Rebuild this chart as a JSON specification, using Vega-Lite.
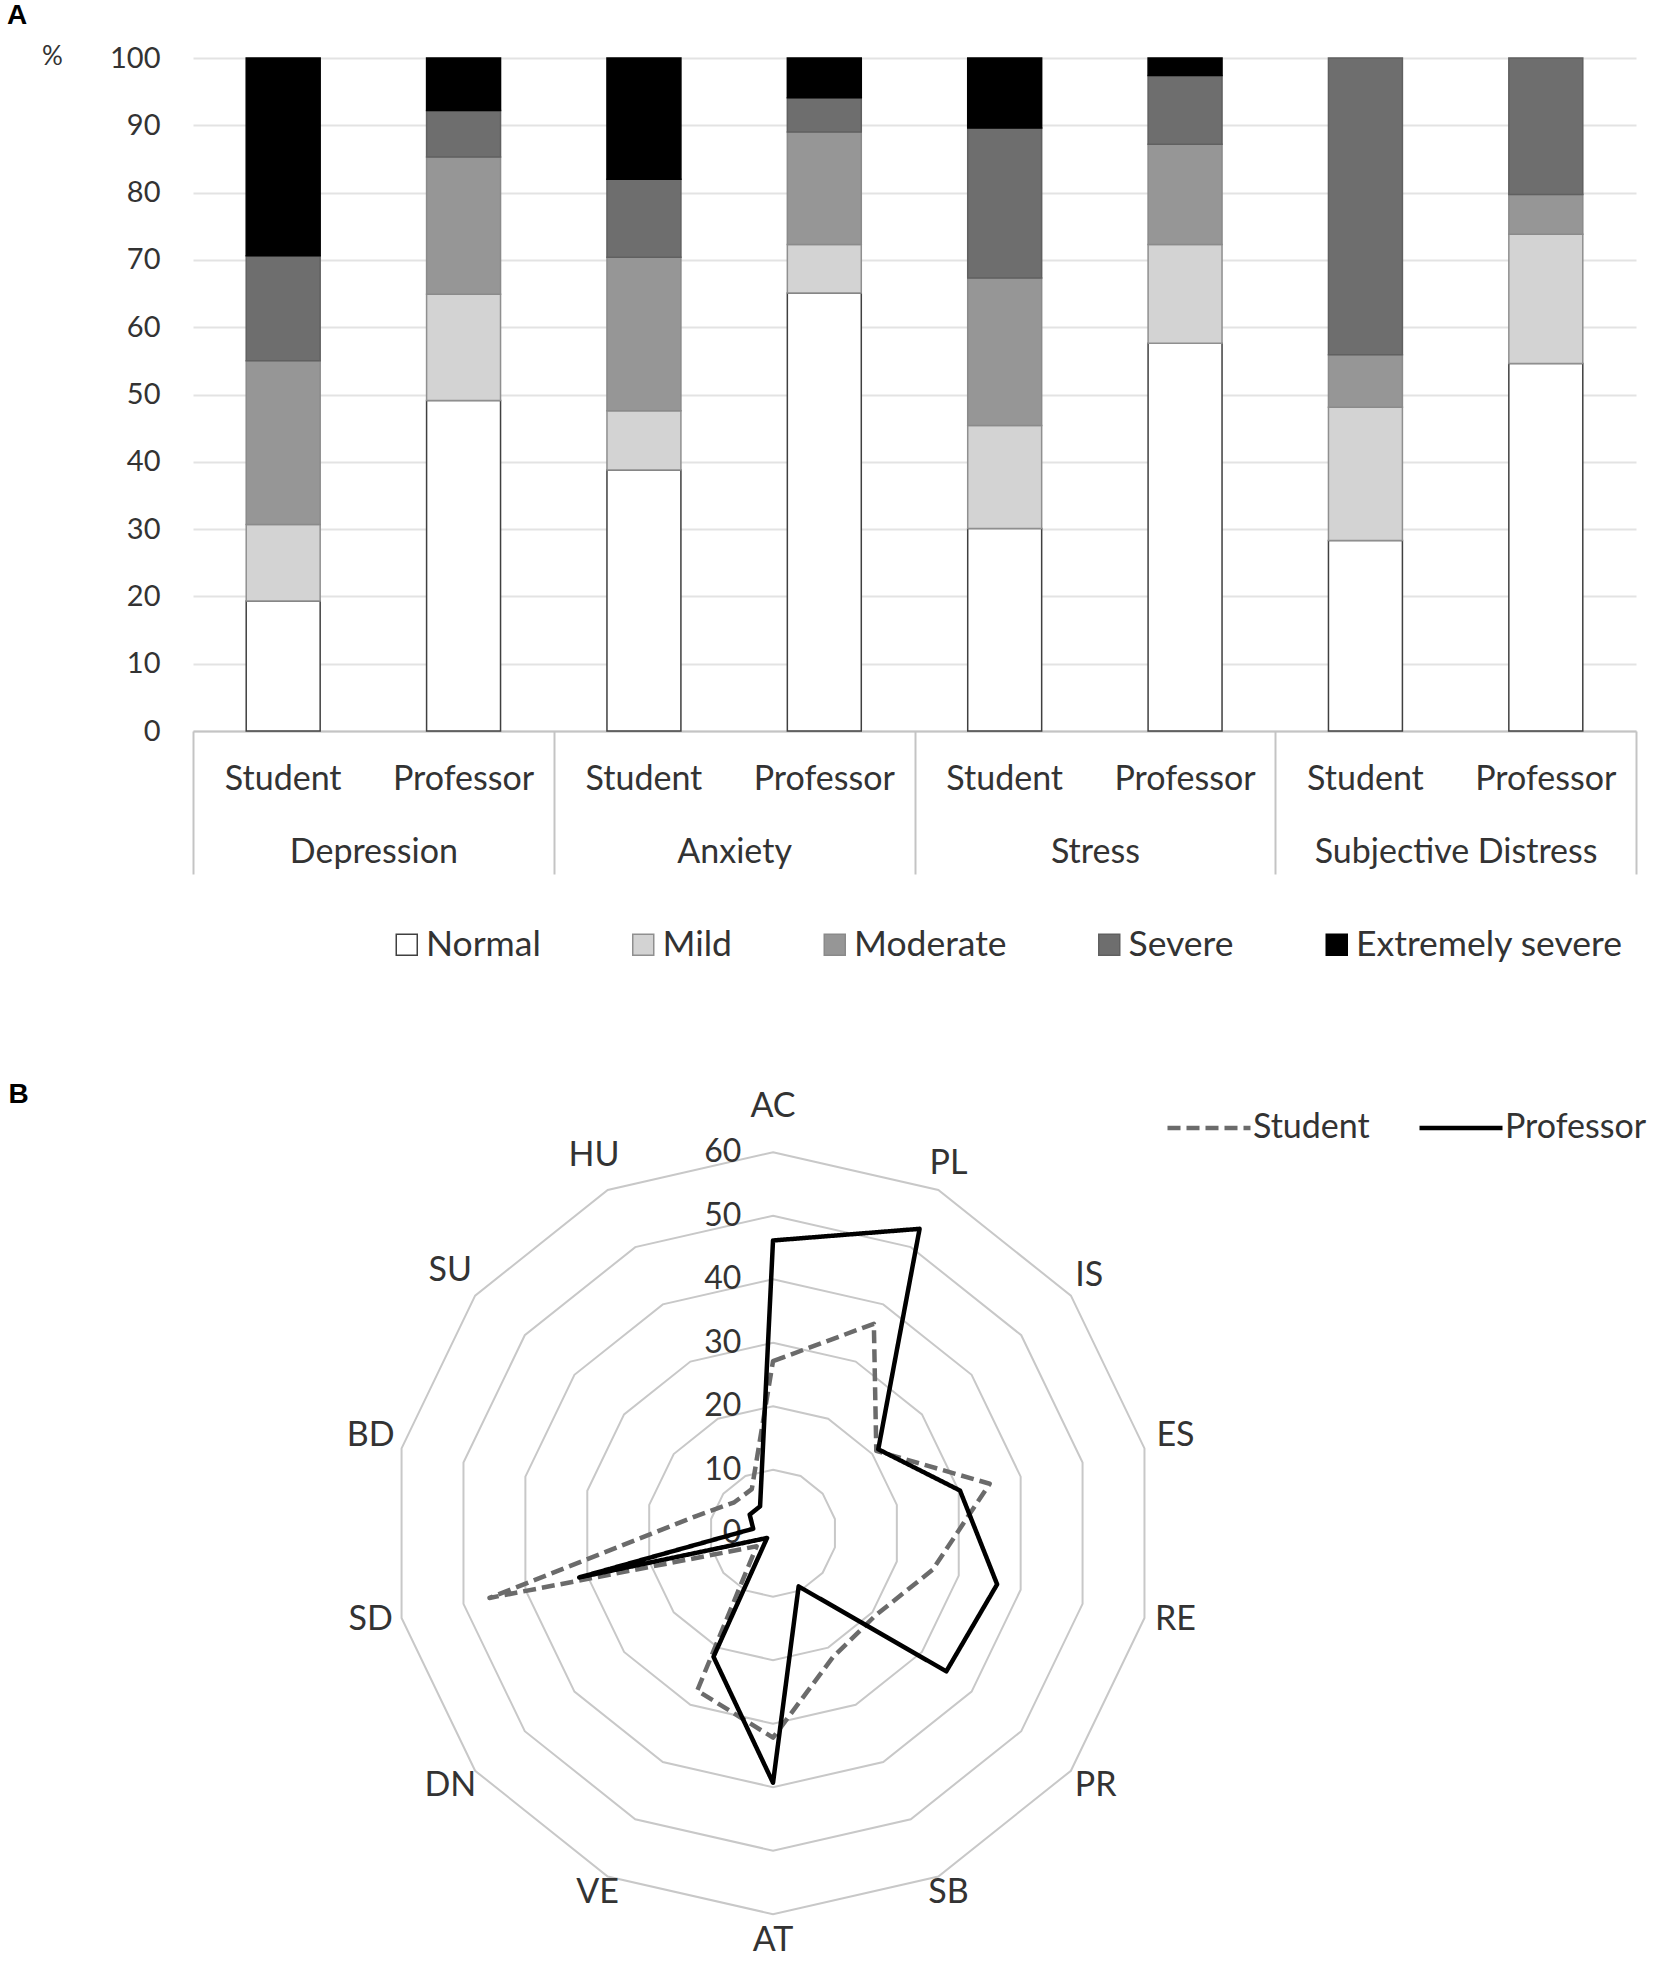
{
  "$schema": "https://vega.github.io/schema/vega-lite/v6.json",
  "background": "white",
  "padding": {"left": 7, "top": 2, "right": 0, "bottom": 0},
  "config": {"view": {"stroke": null}, "font": "Lato"},
  "spacing": 201,
  "vconcat": [
    {
      "title": {"text": "A", "anchor": "start", "frame": "group", "dx": -186, "font": "Liberation Sans", "fontSize": 28, "fontWeight": "bold", "color": "#000000", "offset": 13.5},
      "width": 1443,
      "height": 673,
      "data": {"values": [
        {"group": "Depression", "role": "Student", "level": "Normal", "value": 19.3},
        {"group": "Depression", "role": "Student", "level": "Mild", "value": 11.4},
        {"group": "Depression", "role": "Student", "level": "Moderate", "value": 24.3},
        {"group": "Depression", "role": "Student", "level": "Severe", "value": 15.6},
        {"group": "Depression", "role": "Student", "level": "Extremely severe", "value": 29.4},
        {"group": "Depression", "role": "Professor", "level": "Normal", "value": 49.1},
        {"group": "Depression", "role": "Professor", "level": "Mild", "value": 15.8},
        {"group": "Depression", "role": "Professor", "level": "Moderate", "value": 20.4},
        {"group": "Depression", "role": "Professor", "level": "Severe", "value": 6.9},
        {"group": "Depression", "role": "Professor", "level": "Extremely severe", "value": 7.8},
        {"group": "Anxiety", "role": "Student", "level": "Normal", "value": 38.8},
        {"group": "Anxiety", "role": "Student", "level": "Mild", "value": 8.8},
        {"group": "Anxiety", "role": "Student", "level": "Moderate", "value": 22.8},
        {"group": "Anxiety", "role": "Student", "level": "Severe", "value": 11.6},
        {"group": "Anxiety", "role": "Student", "level": "Extremely severe", "value": 18.0},
        {"group": "Anxiety", "role": "Professor", "level": "Normal", "value": 65.1},
        {"group": "Anxiety", "role": "Professor", "level": "Mild", "value": 7.2},
        {"group": "Anxiety", "role": "Professor", "level": "Moderate", "value": 16.7},
        {"group": "Anxiety", "role": "Professor", "level": "Severe", "value": 5.1},
        {"group": "Anxiety", "role": "Professor", "level": "Extremely severe", "value": 5.9},
        {"group": "Stress", "role": "Student", "level": "Normal", "value": 30.1},
        {"group": "Stress", "role": "Student", "level": "Mild", "value": 15.3},
        {"group": "Stress", "role": "Student", "level": "Moderate", "value": 21.9},
        {"group": "Stress", "role": "Student", "level": "Severe", "value": 22.3},
        {"group": "Stress", "role": "Student", "level": "Extremely severe", "value": 10.4},
        {"group": "Stress", "role": "Professor", "level": "Normal", "value": 57.6},
        {"group": "Stress", "role": "Professor", "level": "Mild", "value": 14.7},
        {"group": "Stress", "role": "Professor", "level": "Moderate", "value": 14.9},
        {"group": "Stress", "role": "Professor", "level": "Severe", "value": 10.2},
        {"group": "Stress", "role": "Professor", "level": "Extremely severe", "value": 2.6},
        {"group": "Subjective Distress", "role": "Student", "level": "Normal", "value": 28.3},
        {"group": "Subjective Distress", "role": "Student", "level": "Mild", "value": 19.8},
        {"group": "Subjective Distress", "role": "Student", "level": "Moderate", "value": 7.8},
        {"group": "Subjective Distress", "role": "Student", "level": "Severe", "value": 44.1},
        {"group": "Subjective Distress", "role": "Professor", "level": "Normal", "value": 54.6},
        {"group": "Subjective Distress", "role": "Professor", "level": "Mild", "value": 19.2},
        {"group": "Subjective Distress", "role": "Professor", "level": "Moderate", "value": 5.9},
        {"group": "Subjective Distress", "role": "Professor", "level": "Severe", "value": 20.3}
      ]},
      "transform": [
        {"calculate": "datum.group + '|' + datum.role", "as": "key"},
        {"calculate": "indexof(['Normal','Mild','Moderate','Severe','Extremely severe'], datum.level)", "as": "lvl"}
      ],
      "layer": [
        {
          "mark": {"type": "bar", "strokeWidth": 1.5},
          "encoding": {
            "x": {
              "field": "key", "type": "nominal",
              "sort": ["Depression|Student", "Depression|Professor", "Anxiety|Student", "Anxiety|Professor", "Stress|Student", "Stress|Professor", "Subjective Distress|Student", "Subjective Distress|Professor"],
              "scale": {"paddingInner": 0.59, "paddingOuter": 0.295},
              "axis": {"orient": "bottom", "title": null, "labelExpr": "split(datum.label, '|')[1]", "labelAngle": 0, "labelFont": "Lato", "labelFontSize": 34, "labelColor": "#333333", "labelPadding": 31, "labelLimit": 0, "ticks": false, "domain": true, "domainColor": "#c4c4c4", "domainWidth": 2, "grid": false}
            },
            "y": {
              "field": "value", "type": "quantitative", "stack": "zero",
              "scale": {"domain": [0, 100], "nice": false},
              "axis": {"title": "%", "titleAngle": 0, "titleX": -141, "titleY": -1.5, "titleAlign": "center", "titleBaseline": "middle", "titleFont": "Lato", "titleFontSize": 26, "titleFontWeight": "normal", "titleColor": "#333333", "values": [0, 10, 20, 30, 40, 50, 60, 70, 80, 90, 100], "labelFont": "Lato", "labelFontSize": 29, "labelColor": "#333333", "labelPadding": 33, "ticks": false, "domain": false, "grid": true, "gridColor": "#e3e3e3", "gridWidth": 2}
            },
            "fill": {
              "field": "level", "type": "nominal",
              "scale": {"domain": ["Normal", "Mild", "Moderate", "Severe", "Extremely severe"], "range": ["#ffffff", "#d3d3d3", "#969696", "#6e6e6e", "#000000"]},
              "legend": {"orient": "none", "legendX": 196, "legendY": 868.5, "direction": "horizontal", "title": null, "symbolType": "square", "symbolSize": 441, "symbolStrokeWidth": 1.5, "symbolOpacity": 1, "labelFont": "Lato", "labelFontSize": 35.5, "labelColor": "#333333", "labelOffset": 1.5, "columnPadding": 84.5, "labelLimit": 0, "padding": 0}
            },
            "stroke": {
              "field": "level", "type": "nominal",
              "scale": {"domain": ["Normal", "Mild", "Moderate", "Severe", "Extremely severe"], "range": ["#404040", "#8f8f8f", "#8a8a8a", "#606060", "#000000"]},
              "legend": {"orient": "none", "legendX": 196, "legendY": 868.5, "direction": "horizontal", "title": null, "symbolType": "square", "symbolSize": 441, "symbolStrokeWidth": 1.5, "symbolOpacity": 1, "labelFont": "Lato", "labelFontSize": 35.5, "labelColor": "#333333", "labelOffset": 1.5, "columnPadding": 84.5, "labelLimit": 0, "padding": 0}
            },
            "order": {"field": "lvl", "type": "quantitative"}
          }
        },
        {
          "mark": {"type": "rule", "opacity": 0},
          "encoding": {
            "x": {
              "field": "group", "type": "nominal",
              "sort": ["Depression", "Anxiety", "Stress", "Subjective Distress"],
              "scale": {"type": "band", "paddingInner": 0, "paddingOuter": 0},
              "axis": {"orient": "bottom", "title": null, "labelAngle": 0, "tickBand": "extent", "ticks": true, "tickSize": 143, "tickColor": "#c4c4c4", "tickWidth": 2, "domain": false, "labelFont": "Lato", "labelFontSize": 34, "labelColor": "#333333", "labelPadding": -38.5, "labelLimit": 0, "grid": false}
            }
          }
        }
      ],
      "resolve": {"scale": {"x": "independent"}, "axis": {"x": "independent"}}
    },
    {
      "width": 1443,
      "height": 889,
      "layer": [
        {
          "data": {"values": [
            {"level": 10, "k": [0, 1, 2, 3, 4, 5, 6, 7, 8, 9, 10, 11, 12, 13]},
            {"level": 20, "k": [0, 1, 2, 3, 4, 5, 6, 7, 8, 9, 10, 11, 12, 13]},
            {"level": 30, "k": [0, 1, 2, 3, 4, 5, 6, 7, 8, 9, 10, 11, 12, 13]},
            {"level": 40, "k": [0, 1, 2, 3, 4, 5, 6, 7, 8, 9, 10, 11, 12, 13]},
            {"level": 50, "k": [0, 1, 2, 3, 4, 5, 6, 7, 8, 9, 10, 11, 12, 13]},
            {"level": 60, "k": [0, 1, 2, 3, 4, 5, 6, 7, 8, 9, 10, 11, 12, 13]}
          ]},
          "transform": [
            {"flatten": ["k"]},
            {"calculate": "datum.level * sin(datum.k * 2 * PI / 14)", "as": "px"},
            {"calculate": "datum.level * cos(datum.k * 2 * PI / 14)", "as": "py"}
          ],
          "mark": {"type": "line", "interpolate": "linear-closed", "color": "#c8c8c8", "strokeWidth": 2},
          "encoding": {
            "x": {"field": "px", "type": "quantitative", "scale": {"domain": [-91.34, 135.9], "nice": false, "zero": false}, "axis": null},
            "y": {"field": "py", "type": "quantitative", "scale": {"domain": [-68, 72], "nice": false, "zero": false}, "axis": null},
            "detail": {"field": "level", "type": "nominal"},
            "order": {"field": "k", "type": "quantitative"}
          }
        },
        {
          "data": {"values": [
            {"level": 0}, {"level": 10}, {"level": 20}, {"level": 30}, {"level": 40}, {"level": 50}, {"level": 60}
          ]},
          "mark": {"type": "text", "align": "right", "baseline": "middle", "font": "Lato", "fontSize": 32, "color": "#333333"},
          "encoding": {
            "x": {"datum": -5, "type": "quantitative"},
            "y": {"field": "level", "type": "quantitative"},
            "text": {"field": "level", "type": "nominal"}
          }
        },
        {
          "data": {"values": [
            {"k": 0, "label": "AC"}, {"k": 1, "label": "PL"}, {"k": 2, "label": "IS"}, {"k": 3, "label": "ES"},
            {"k": 4, "label": "RE"}, {"k": 5, "label": "PR"}, {"k": 6, "label": "SB"}, {"k": 7, "label": "AT"},
            {"k": 8, "label": "VE"}, {"k": 9, "label": "DN"}, {"k": 10, "label": "SD"}, {"k": 11, "label": "BD"},
            {"k": 12, "label": "SU"}, {"k": 13, "label": "HU"}
          ]},
          "transform": [
            {"calculate": "datum.k == 0 ? 66.3 : (datum.k == 1 || datum.k == 2 || datum.k == 6 || datum.k == 8 ? 63.7 : 65)", "as": "lr"},
            {"calculate": "datum.lr * sin(datum.k * 2 * PI / 14)", "as": "px"},
            {"calculate": "datum.lr * cos(datum.k * 2 * PI / 14)", "as": "py"}
          ],
          "mark": {"type": "text", "align": "center", "baseline": "middle", "dy": -5, "font": "Lato", "fontSize": 34, "color": "#333333"},
          "encoding": {
            "x": {"field": "px", "type": "quantitative"},
            "y": {"field": "py", "type": "quantitative"},
            "text": {"field": "label", "type": "nominal"}
          }
        },
        {
          "data": {"values": [
            {"series": "Student", "k": 0, "axis": "AC", "value": 27.1},
            {"series": "Student", "k": 1, "axis": "PL", "value": 36.6},
            {"series": "Student", "k": 2, "axis": "IS", "value": 20.8},
            {"series": "Student", "k": 3, "axis": "ES", "value": 35.0},
            {"series": "Student", "k": 4, "axis": "RE", "value": 25.8},
            {"series": "Student", "k": 5, "axis": "PR", "value": 20.7},
            {"series": "Student", "k": 6, "axis": "SB", "value": 21.7},
            {"series": "Student", "k": 7, "axis": "AT", "value": 32.2},
            {"series": "Student", "k": 8, "axis": "VE", "value": 27.5},
            {"series": "Student", "k": 9, "axis": "DN", "value": 3.3},
            {"series": "Student", "k": 10, "axis": "SD", "value": 45.8},
            {"series": "Student", "k": 11, "axis": "BD", "value": 12.3},
            {"series": "Student", "k": 12, "axis": "SU", "value": 7.8},
            {"series": "Student", "k": 13, "axis": "HU", "value": 7.7},
            {"series": "Professor", "k": 0, "axis": "AC", "value": 46.1},
            {"series": "Professor", "k": 1, "axis": "PL", "value": 53.2},
            {"series": "Professor", "k": 2, "axis": "IS", "value": 21.2},
            {"series": "Professor", "k": 3, "axis": "ES", "value": 30.2},
            {"series": "Professor", "k": 4, "axis": "RE", "value": 36.2},
            {"series": "Professor", "k": 5, "axis": "PR", "value": 34.9},
            {"series": "Professor", "k": 6, "axis": "SB", "value": 9.3},
            {"series": "Professor", "k": 7, "axis": "AT", "value": 39.3},
            {"series": "Professor", "k": 8, "axis": "VE", "value": 21.6},
            {"series": "Professor", "k": 9, "axis": "DN", "value": 1.2},
            {"series": "Professor", "k": 10, "axis": "SD", "value": 31.3},
            {"series": "Professor", "k": 11, "axis": "BD", "value": 3.2},
            {"series": "Professor", "k": 12, "axis": "SU", "value": 4.7},
            {"series": "Professor", "k": 13, "axis": "HU", "value": 4.7}
          ]},
          "transform": [
            {"calculate": "datum.value * sin(datum.k * 2 * PI / 14)", "as": "px"},
            {"calculate": "datum.value * cos(datum.k * 2 * PI / 14)", "as": "py"}
          ],
          "mark": {"type": "line", "interpolate": "linear-closed", "strokeWidth": 4.5, "strokeJoin": "round"},
          "encoding": {
            "x": {"field": "px", "type": "quantitative"},
            "y": {"field": "py", "type": "quantitative"},
            "order": {"field": "k", "type": "quantitative"},
            "color": {
              "field": "series", "type": "nominal",
              "scale": {"domain": ["Student", "Professor"], "range": ["#6b6b6b", "#000000"]},
              "legend": {"orient": "none", "legendX": 972, "legendY": 1026, "direction": "horizontal", "title": null, "symbolType": "stroke", "symbolSize": 6889, "symbolStrokeWidth": 4.5, "labelFont": "Lato", "labelFontSize": 34, "labelColor": "#333333", "labelOffset": 0, "columnPadding": 40, "labelLimit": 0, "padding": 0}
            },
            "strokeDash": {
              "field": "series", "type": "nominal",
              "scale": {"domain": ["Student", "Professor"], "range": [[13, 6], [1, 0]]},
              "legend": {"orient": "none", "legendX": 972, "legendY": 1026, "direction": "horizontal", "title": null, "symbolType": "stroke", "symbolSize": 6889, "symbolStrokeWidth": 4.5, "labelFont": "Lato", "labelFontSize": 34, "labelColor": "#333333", "labelOffset": 0, "columnPadding": 40, "labelLimit": 0, "padding": 0}
            }
          }
        },
        {
          "data": {"values": [{"panel": "B"}]},
          "mark": {"type": "text", "align": "center", "baseline": "middle", "font": "Liberation Sans", "fontSize": 28, "fontWeight": "bold", "color": "#000000"},
          "encoding": {
            "x": {"datum": -118.8, "type": "quantitative"},
            "y": {"datum": 69, "type": "quantitative"},
            "text": {"field": "panel", "type": "nominal"}
          }
        }
      ]
    }
  ]
}
